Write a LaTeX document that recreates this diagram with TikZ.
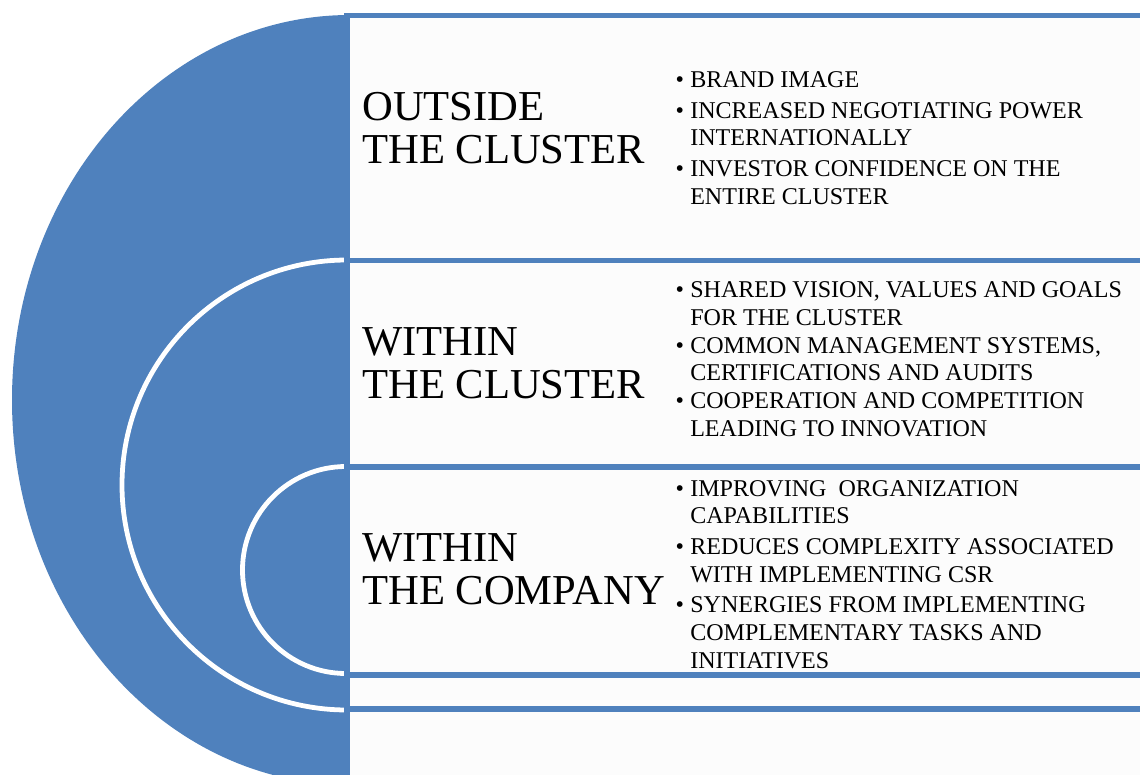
\documentclass[tikz,border=0pt]{standalone}
\usepackage{fontspec}
\setmainfont{Liberation Serif}
\usetikzlibrary{positioning}
\definecolor{ringBlue}{HTML}{4F81BD}
\definecolor{panelGray}{HTML}{FCFCFC}
\newcommand{\bul}{\llap{\textbullet\hspace{4.5pt}}}
\tikzset{
    heading/.style = {anchor=north west, inner sep=0pt, align=left,
        font=\fontsize{30.3}{30.5}\selectfont},
    bullets/.style = {anchor=north west, inner sep=0pt, align=left,
        font=\fontsize{17.1}{19.7}\selectfont},
    border/.style = {draw=ringBlue, line width=3.6pt},
    ring/.style = {draw=white, line width=3.4pt},
}

\begin{document}
\begin{tikzpicture}[x=0.025cm, y=-0.025cm]
	\useasboundingbox (0,0) rectangle (1140,775);
	% panels background
	\fill [panelGray] (345,15) rectangle (1140,775);
	
	% target
	\begin{scope}
		\clip (0,0) rectangle (347,775);
		\fill [ringBlue] (350,400) ellipse [x radius=338, y radius=385];
		\draw [ring] (347,485) circle [radius=225];
		\draw [ring] (346,570) circle [radius=103.5];
	\end{scope}
	
	%%lines
	\draw [border] (347,13.5) -- (347,775);
	\draw [border] (345,15.5) -- (1140,15.5);
	\draw [border] (345,260.5) -- (1140,260.5);
	\draw [border] (345,467) -- (1140,467);
	\draw [border] (345,675) -- (1140,675);
	\draw [border] (345,709) -- (1140,709);
	
	% outside the cluster
	\node [heading] (outHead) at (362,92) {OUTSIDE\\THE CLUSTER};
	\node [bullets] (outList) at (690,71.5) {\bul BRAND IMAGE\\[2pt]
		\bul INCREASED NEGOTIATING POWER\\ INTERNATIONALLY\\[2pt]
		\bul INVESTOR CONFIDENCE ON THE\\ ENTIRE CLUSTER};
	
	% within the cluster
	\node [heading] (withinHead) at (362,327.5) {WITHIN\\THE CLUSTER};
	\node [bullets] (withinList) at (690,281.5) {\bul SHARED VISION, VALUES AND GOALS\\ FOR THE CLUSTER\\
		\bul COMMON MANAGEMENT SYSTEMS,\\ CERTIFICATIONS AND AUDITS\\
		\bul COOPERATION AND COMPETITION\\ LEADING TO INNOVATION};
	
	% within the company
	\node [heading] (compHead) at (362,533.5) {WITHIN\\THE COMPANY};
	\node [bullets] (compList) at (690,480) {\bul IMPROVING\ \ ORGANIZATION\\ CAPABILITIES\\[2pt]
		\bul REDUCES COMPLEXITY ASSOCIATED\\ WITH IMPLEMENTING CSR\\[2pt]
		\bul SYNERGIES FROM IMPLEMENTING\\ COMPLEMENTARY TASKS AND\\ INITIATIVES};
\end{tikzpicture}
\end{document}
